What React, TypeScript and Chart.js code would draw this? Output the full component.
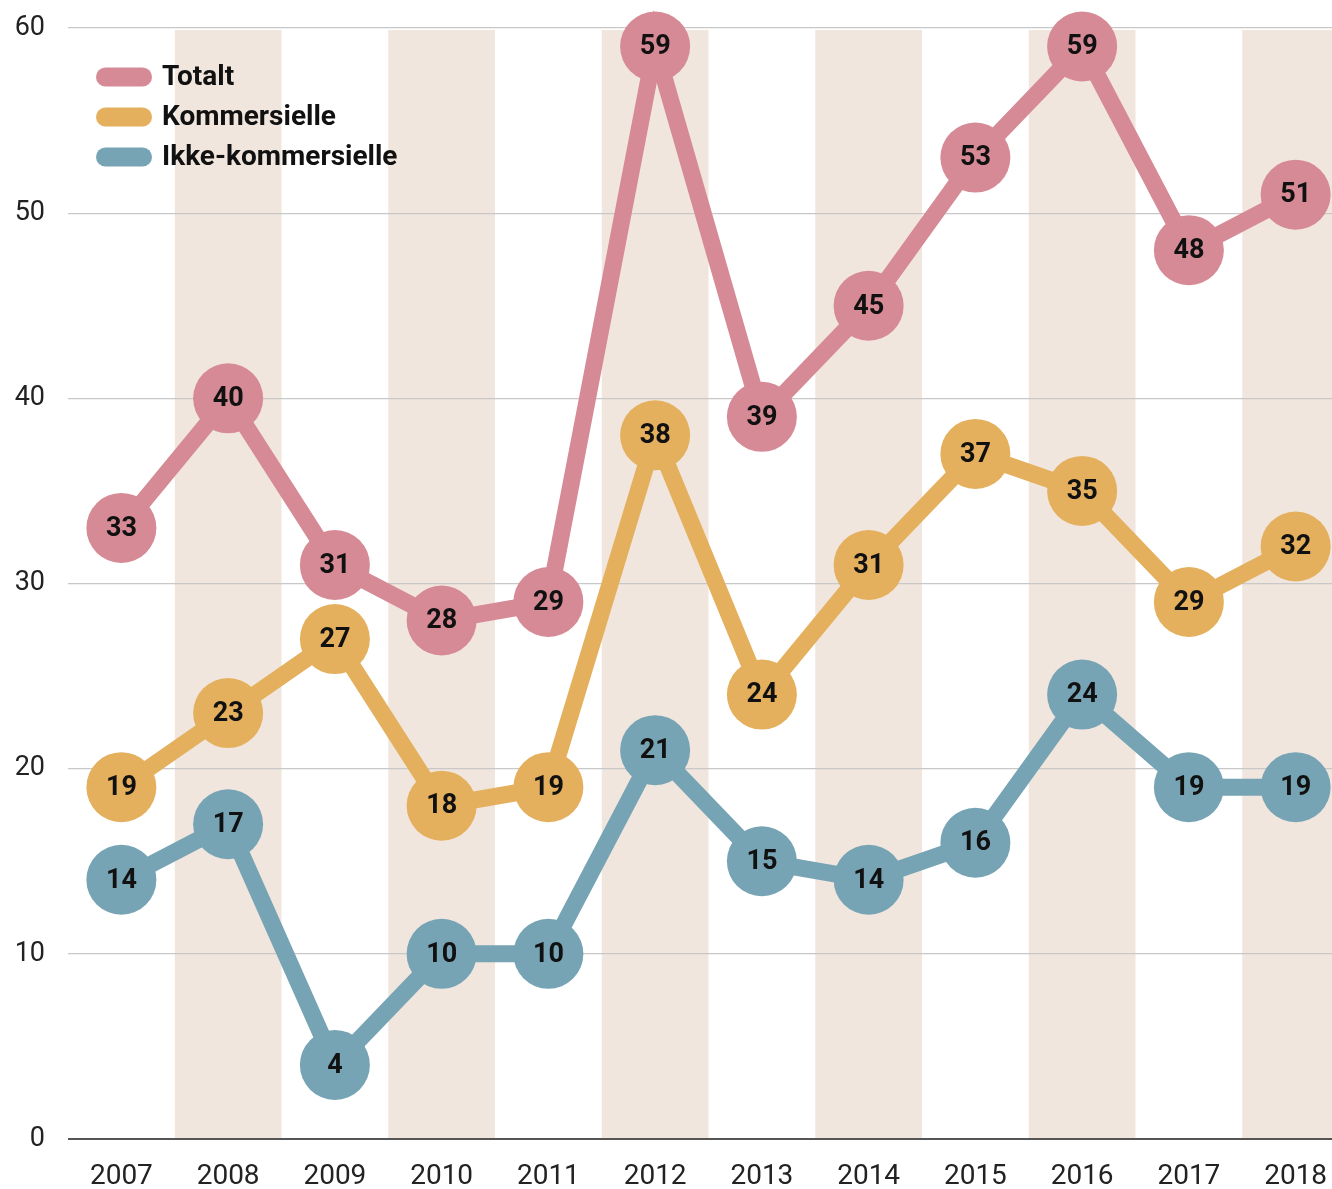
import React, { useEffect, useRef } from "react";
import { Chart, registerables } from "chart.js";

Chart.register(...registerables);

const years = ["2007", "2008", "2009", "2010", "2011", "2012", "2013", "2014", "2015", "2016", "2017", "2018"];
const totalt = [33, 40, 31, 28, 29, 59, 39, 45, 53, 59, 48, 51];
const kommersielle = [19, 23, 27, 18, 19, 38, 24, 31, 37, 35, 29, 32];
const ikkeKommersielle = [14, 17, 4, 10, 10, 21, 15, 14, 16, 24, 19, 19];
const seriesNames = ["Totalt", "Kommersielle", "Ikke-kommersielle"];
const seriesColors = ["#D68A95", "#E4B05D", "#76A4B5"];
const yTicks = [0, 10, 20, 30, 40, 50, 60];

const FONT = "Roboto, 'Noto Sans', sans-serif";
const SHIFT_Y = 7;

const bandsPlugin = {
  id: "bands",
  beforeDraw(chart: any) {
    const { ctx, chartArea, scales } = chart;
    const x = scales.x;
    const step = x.getPixelForValue(1) - x.getPixelForValue(0);
    ctx.save();
    ctx.fillStyle = "#F1E6DD";
    for (let i = 1; i < years.length; i += 2) {
      const c = x.getPixelForValue(i);
      ctx.fillRect(c - step / 2, chartArea.top + 2, step, chartArea.bottom - chartArea.top - 2);
    }
    ctx.restore();
  },
};

const labelsPlugin = {
  id: "pointLabels",
  afterDatasetsDraw(chart: any) {
    const { ctx } = chart;
    ctx.save();
    ctx.font = `bold 27px ${FONT}`;
    ctx.fillStyle = "#111";
    ctx.textAlign = "center";
    ctx.textBaseline = "middle";
    chart.data.datasets.forEach((ds: any, di: number) => {
      const meta = chart.getDatasetMeta(di);
      meta.data.forEach((pt: any, i: number) => {
        ctx.fillText(String(ds.data[i]), pt.x, pt.y + 1);
      });
    });
    // legend
    chart.data.datasets.forEach((ds: any, di: number) => {
      const cy = 77 + SHIFT_Y + di * 40;
      ctx.fillStyle = ds.borderColor;
      ctx.beginPath();
      const x0 = 96, w = 56, h = 19, r = h / 2;
      ctx.moveTo(x0 + r, cy - r);
      ctx.lineTo(x0 + w - r, cy - r);
      ctx.arc(x0 + w - r, cy, r, -Math.PI / 2, Math.PI / 2);
      ctx.lineTo(x0 + r, cy + r);
      ctx.arc(x0 + r, cy, r, Math.PI / 2, (3 * Math.PI) / 2);
      ctx.closePath();
      ctx.fill();
      ctx.fillStyle = "#111";
      ctx.textAlign = "left";
      ctx.font = `bold 28px ${FONT}`;
      ctx.fillText(ds.label, 162, cy + 1);
    });
    ctx.restore();
  },
};

export default function App() {
  const ref = useRef<HTMLCanvasElement>(null);
  useEffect(() => {
    if (!ref.current) return;
    const data = [totalt, kommersielle, ikkeKommersielle];
    const chart = new Chart(ref.current, {
      type: "line",
      data: {
        labels: years,
        datasets: data.map((d, i) => ({
          label: seriesNames[i],
          data: d,
          borderColor: seriesColors[i],
          backgroundColor: seriesColors[i],
          pointBackgroundColor: seriesColors[i],
          pointBorderWidth: 0,
          pointRadius: 35,
          borderWidth: 17,
          tension: 0,
          clip: false as any,
        })),
      },
      options: {
        responsive: false,
        animation: false,
        devicePixelRatio: 1,
        layout: { padding: 0 },
        plugins: { legend: { display: false }, tooltip: { enabled: false } },
        scales: {
          x: {
            offset: true,
            grid: { display: false, drawTicks: false },
            border: { display: false },
            ticks: { font: { family: FONT, size: 28 }, color: "#222", padding: 21, maxRotation: 0 },
            afterFit(scale: any) {
              scale.height = 50;
              scale.paddingLeft = 0;
              scale.paddingRight = 0;
            },
          },
          y: {
            min: 0,
            max: 60,
            afterBuildTicks(scale: any) {
              scale.ticks = yTicks.map((v) => ({ value: v }));
            },
            grid: {
              drawTicks: false,
              color: (c: any) => (c.tick && c.tick.value === 0 ? "#555" : "#C8C8C8"),
              lineWidth: (c: any) => (c.tick && c.tick.value === 0 ? 2 : 1.3),
            },
            border: { display: false },
            ticks: { font: { family: FONT, size: 27 }, color: "#222", padding: 23 },
            afterFit(scale: any) {
              scale.width = 68;
              scale.paddingTop = 0;
              scale.paddingBottom = 0;
            },
          },
        },
      },
      plugins: [bandsPlugin, labelsPlugin],
    });
    return () => chart.destroy();
  }, []);
  return (
    <div style={{ position: "fixed", left: 0, top: 0, width: 1332, height: 1189, overflow: "hidden", background: "#fff" }}>
      <canvas ref={ref} width={1384} height={1189 + SHIFT_Y} style={{ display: "block", marginTop: -SHIFT_Y }} />
    </div>
  );
}
